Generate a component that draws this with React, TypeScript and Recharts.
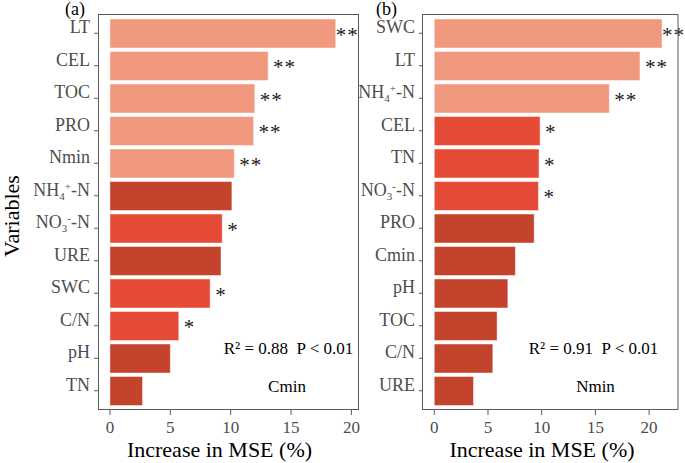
import { BarChart, Bar, XAxis, YAxis, Cell, LabelList } from "recharts"

const FONT = "Liberation Serif, Tinos, DejaVu Serif, Times New Roman, serif"

// (a) Cmin
const varsA = ["LT", "CEL", "TOC", "PRO", "Nmin", "NH₄⁺-N", "NO₃⁻-N", "URE", "SWC", "C/N", "pH", "TN"]
const mseA = [18.7, 13.1, 12.0, 11.9, 10.3, 10.1, 9.3, 9.2, 8.3, 5.7, 5.0, 2.7]
const sigA = ["**", "**", "**", "**", "**", "", "*", "", "*", "*", "", ""]

// (b) Nmin
const varsB = ["SWC", "LT", "NH₄⁺-N", "CEL", "TN", "NO₃⁻-N", "PRO", "Cmin", "pH", "TOC", "C/N", "URE"]
const mseB = [21.2, 19.15, 16.3, 9.85, 9.75, 9.7, 9.3, 7.55, 6.85, 5.85, 5.45, 3.65]
const sigB = ["**", "**", "**", "*", "*", "*", "", "", "", "", "", ""]

const xTicks = [0, 5, 10, 15, 20]

const sigColor = (s: string) => (s === "**" ? "#F1997E" : s === "*" ? "#E54B36" : "#C4432C")

// sub/superscript glyphs in the variable names
const SPECIAL: Record<string, { t: string; dy: number }> = {
  "₄": { t: "4", dy: 4 },
  "₃": { t: "3", dy: 4 },
  "⁺": { t: "+", dy: -6 },
  "⁻": { t: "-", dy: -6 },
}

function VarTick(props: any) {
  const { x, y, payload } = props
  const runs: { text: string; dy: number; small: boolean }[] = []
  for (const ch of String(payload.value)) {
    const m = SPECIAL[ch]
    const dy = m ? m.dy : 0
    const last = runs[runs.length - 1]
    if (last && last.dy === dy) last.text += m ? m.t : ch
    else runs.push({ text: m ? m.t : ch, dy, small: !!m })
  }
  let cur = 0
  return (
    <text x={x} y={y} dy={6} textAnchor="end" fill="#4D4D4D" fontSize={18} fontFamily={FONT}>
      {runs.map((r, i) => {
        const d = r.dy - cur
        cur = r.dy
        return (
          <tspan key={i} dy={d} fontSize={r.small ? 11 : 18}>
            {r.text}
          </tspan>
        )
      })}
    </text>
  )
}

const renderSig = (plotRight: number) => (p: any) => {
  const { x, y, width, height, value } = p
  if (!value) return null
  const end = Number(x) + Number(width)
  const textW = String(value).length * 11
  const gap = end + 5 + textW > plotRight ? 0 : 5
  return (
    <text
      x={end + gap}
      y={Number(y) + Number(height) / 2 + 8}
      fontSize={21}
      letterSpacing={1}
      fontFamily={FONT}
      fill="#1a1a1a"
    >
      {value}
    </text>
  )
}

interface PanelProps {
  names: string[]
  values: number[]
  sigs: string[]
  domain: [number, number]
  width: number
  yWidth: number
  right: number
}

function Panel({ names, values, sigs, domain, width, yWidth, right }: PanelProps) {
  const data = names.map((n, i) => ({ name: n, mse: values[i], sig: sigs[i] }))
  const plotRight = width - right
  return (
    <BarChart
      width={width}
      height={463}
      data={data}
      layout="vertical"
      margin={{ top: 14, right, bottom: 23, left: 8 }}
    >
      <XAxis
        type="number"
        domain={domain}
        ticks={xTicks}
        allowDataOverflow
        height={30}
        axisLine={false}
        tickSize={5}
        tickMargin={6}
        tickLine={{ stroke: "#595959" }}
        tick={{ fontSize: 17, fill: "#4D4D4D", fontFamily: FONT }}
      />
      <YAxis
        type="category"
        dataKey="name"
        width={yWidth}
        padding={{ top: 3, bottom: 3 }}
        axisLine={false}
        tickSize={4}
        tickMargin={4}
        tickLine={{ stroke: "#595959" }}
        tick={<VarTick />}
        interval={0}
      />
      <Bar dataKey="mse" barSize={29} isAnimationActive={false} stroke="#ffffff" strokeOpacity={0.45} strokeWidth={1}>
        {data.map((d, i) => (
          <Cell key={i} fill={sigColor(d.sig)} />
        ))}
        <LabelList dataKey="sig" content={renderSig(plotRight)} />
      </Bar>
    </BarChart>
  )
}

export default function App() {
  const txt = { fontFamily: FONT, fill: "#000" }
  return (
    <div style={{ position: "fixed", left: 0, top: 0, width: 685, height: 463, overflow: "hidden", background: "#fff" }}>
      <div style={{ position: "absolute", left: 0, top: 0 }}>
        <Panel names={varsA} values={mseA} sigs={sigA} domain={[-0.99, 20.63]} width={370} yWidth={90} right={11} />
      </div>
      <div style={{ position: "absolute", left: 335, top: 0 }}>
        <Panel names={varsB} values={mseB} sigs={sigB} domain={[-1.05, 22.69]} width={350} yWidth={80} right={7} />
      </div>
      <svg width={685} height={463} style={{ position: "absolute", left: 0, top: 0, pointerEvents: "none" }}>
        <rect x={98.5} y={14.5} width={260} height={395} fill="none" stroke="#595959" strokeWidth={1} />
        <rect x={422.5} y={14.5} width={255.5} height={395} fill="none" stroke="#595959" strokeWidth={1} />
        <text x={65} y={15} fontSize={18} {...txt}>(a)</text>
        <text x={376} y={15} fontSize={18} {...txt}>(b)</text>
        <text x={19} y={216} fontSize={22} textAnchor="middle" transform="rotate(-90 19 216)" {...txt}>
          Variables
        </text>
        <text x={219.5} y={457} fontSize={22} textAnchor="middle" {...txt}>Increase in MSE (%)</text>
        <text x={542} y={457} fontSize={22} textAnchor="middle" {...txt}>Increase in MSE (%)</text>
        <text x={288.5} y={354} fontSize={17} textAnchor="middle" {...txt}>{"R² = 0.88\u00A0\u00A0P < 0.01"}</text>
        <text x={287} y={392} fontSize={17} textAnchor="middle" {...txt}>Cmin</text>
        <text x={593.5} y={354} fontSize={17} textAnchor="middle" {...txt}>{"R² = 0.91\u00A0\u00A0P < 0.01"}</text>
        <text x={595.5} y={392} fontSize={17} textAnchor="middle" {...txt}>Nmin</text>
      </svg>
    </div>
  )
}
